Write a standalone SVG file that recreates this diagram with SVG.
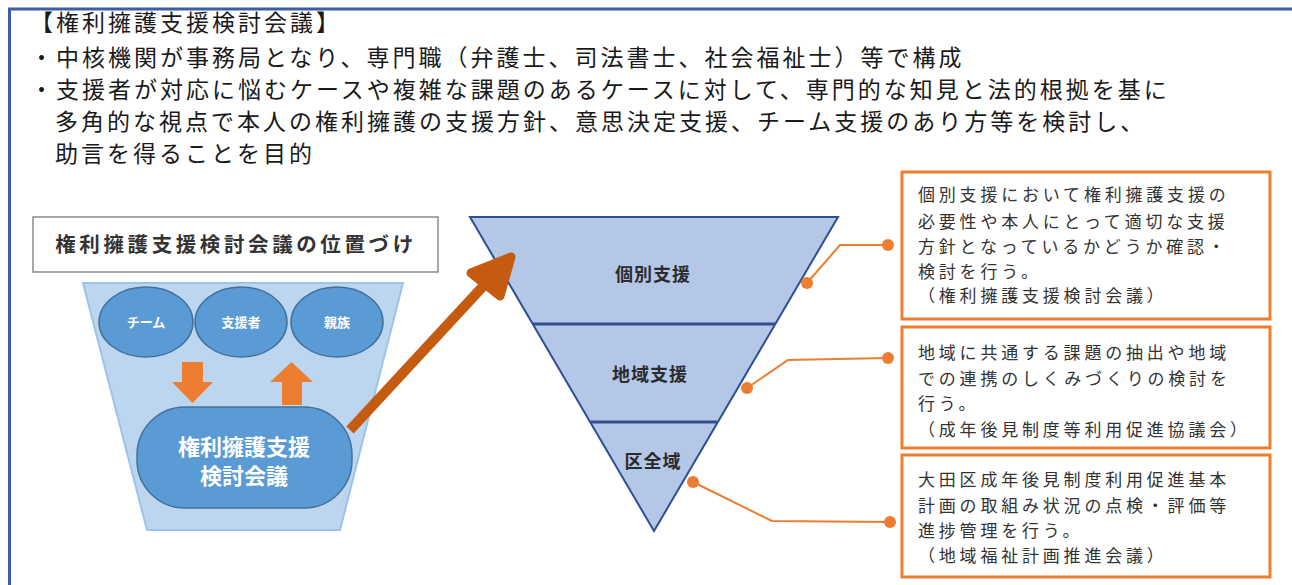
<svg xmlns="http://www.w3.org/2000/svg" width="1292" height="585" viewBox="0 0 1292 585">
<defs>
<style>
.jp{font-family:"Noto Sans CJK JP","Noto Sans",sans-serif;}
.top{font-size:23px;fill:#1a1a1a;letter-spacing:3px;}
.note{font-size:17px;fill:#333;letter-spacing:3.8px;}
.box{fill:#fff;stroke:#ed7d31;stroke-width:3;}
.tri{font-size:18px;fill:#2b2b2b;font-weight:bold;letter-spacing:1px;}
.ell{fill:#5b9bd5;stroke:#41719c;stroke-width:1.5;}
.elltxt{font-size:13px;fill:#fff;font-weight:bold;}
.conn{fill:none;stroke:#ed7d31;stroke-width:2;}
.dot{fill:#ed7d31;}
.oarr{fill:#ed7d31;}
</style>
</defs>
<rect x="0" y="0" width="1292" height="585" fill="#fff"/>
<g id="frame">
<path d="M9.5,585 V9 H1292" fill="none" stroke="#3a5ea8" stroke-width="3"/>
</g>
<g id="header" class="jp top">
<text x="30" y="31">【権利擁護支援検討会議】</text>
<text x="30" y="66">・中核機関が事務局となり、専門職（弁護士、司法書士、社会福祉士）等で構成</text>
<text x="30" y="98">・支援者が対応に悩むケースや複雑な課題のあるケースに対して、専門的な知見と法的根拠を基に</text>
<text x="55" y="130">多角的な視点で本人の権利擁護の支援方針、意思決定支援、チーム支援のあり方等を検討し、</text>
<text x="55" y="162">助言を得ることを目的</text>
</g>
<g id="position-title">
<rect x="33" y="217" width="405" height="55" fill="#fff" stroke="#8a8a8a" stroke-width="1.5"/>
<text x="236" y="252" text-anchor="middle" class="jp" font-size="20.5" font-weight="bold" fill="#333" letter-spacing="3.6">権利擁護支援検討会議の位置づけ</text>
</g>
<g id="funnel">
<polygon points="83,283 403,283 340,530 147,530" fill="#bcd6ef" stroke="#9dc3e6" stroke-width="2"/>
</g>
<g id="team">
<ellipse class="ell" cx="146" cy="322" rx="47" ry="35"/>
<text class="jp elltxt" x="146" y="327" text-anchor="middle">チーム</text>
</g>
<g id="supporter">
<ellipse class="ell" cx="241" cy="322" rx="46" ry="35"/>
<text class="jp elltxt" x="241" y="327" text-anchor="middle">支援者</text>
</g>
<g id="relatives">
<ellipse class="ell" cx="337" cy="322" rx="46" ry="35"/>
<text class="jp elltxt" x="337" y="327" text-anchor="middle">親族</text>
</g>
<g id="meeting">
<rect x="137" y="407" width="215" height="101" rx="48" ry="48" fill="#5b9bd5" stroke="#41719c" stroke-width="1.5"/>
<text x="244" y="455" text-anchor="middle" class="jp" font-size="22" fill="#fff" font-weight="bold">権利擁護支援</text>
<text x="244" y="484" text-anchor="middle" class="jp" font-size="22" fill="#fff" font-weight="bold">検討会議</text>
</g>
<g id="pyramid">
<polygon points="470,217 838,217 654,531" fill="#b4c7e7" stroke="#2f4f8f" stroke-width="2"/>
<line x1="533" y1="324" x2="775" y2="324" stroke="#2f4f8f" stroke-width="3"/>
<line x1="591" y1="422" x2="717" y2="422" stroke="#2f4f8f" stroke-width="3"/>
</g>
<g id="level-individual"><text class="jp tri" x="653" y="281" text-anchor="middle">個別支援</text></g>
<g id="level-regional"><text class="jp tri" x="650" y="381" text-anchor="middle">地域支援</text></g>
<g id="level-ward"><text class="jp tri" x="653" y="468" text-anchor="middle">区全域</text></g>
<g id="note1">
<rect class="box" x="902" y="172" width="368" height="147"/>
<g class="jp note">
<text x="918" y="201">個別支援において権利擁護支援の</text>
<text x="918" y="228">必要性や本人にとって適切な支援</text>
<text x="918" y="253">方針となっているかどうか確認・</text>
<text x="918" y="278">検討を行う。</text>
<text x="918" y="302">（権利擁護支援検討会議）</text>
</g>
</g>
<g id="note2">
<rect class="box" x="902" y="327" width="368" height="121"/>
<g class="jp note">
<text x="918" y="359">地域に共通する課題の抽出や地域</text>
<text x="918" y="385">での連携のしくみづくりの検討を</text>
<text x="918" y="410">行う。</text>
<text x="918" y="436">（成年後見制度等利用促進協議会）</text>
</g>
</g>
<g id="note3">
<rect class="box" x="902" y="455" width="368" height="122"/>
<g class="jp note">
<text x="918" y="486">大田区成年後見制度利用促進基本</text>
<text x="918" y="512">計画の取組み状況の点検・評価等</text>
<text x="918" y="537">進捗管理を行う。</text>
<text x="918" y="562">（地域福祉計画推進会議）</text>
</g>
</g>
<g id="connectors">
<polygon class="oarr" points="182,362 203,362 203,382 213,382 192.5,403 172,382 182,382"/>
<polygon class="oarr" points="282,405 302,405 302,382 313,382 291.5,362 270,382 282,382"/>
<line x1="350" y1="430" x2="500" y2="268" stroke="#c55a11" stroke-width="10" stroke-linecap="butt"/>
<path d="M471,273 L511,257 L500,296 Z" fill="#c55a11" stroke="#c55a11" stroke-width="9" stroke-linejoin="round" stroke-linecap="round"/>
<polyline class="conn" points="807,283 840,245 888,245"/>
<circle class="dot" cx="807" cy="283" r="6"/>
<circle class="dot" cx="888" cy="245" r="6"/>
<polyline class="conn" points="747,388 788,360 888,358"/>
<circle class="dot" cx="747" cy="388" r="6"/>
<circle class="dot" cx="888" cy="358" r="6"/>
<polyline class="conn" points="693,482 772,521 890,522"/>
<circle class="dot" cx="693" cy="482" r="6"/>
<circle class="dot" cx="890" cy="522" r="6"/>
</g>
</svg>
